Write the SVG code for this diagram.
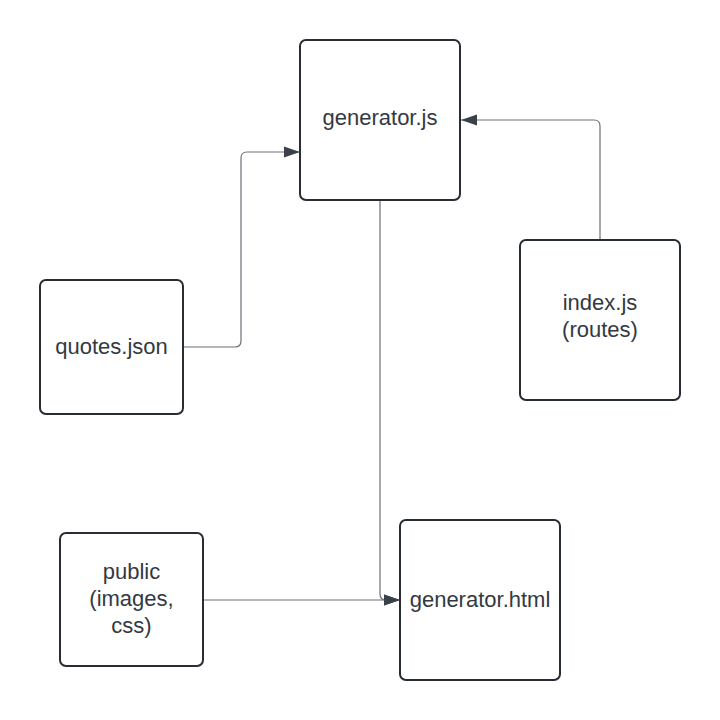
<svg xmlns="http://www.w3.org/2000/svg" width="720" height="720" viewBox="0 0 720 720">
<defs>
<marker id="arr" markerUnits="userSpaceOnUse" markerWidth="18" markerHeight="14" refX="16" refY="6" orient="auto" viewBox="0 0 18 12">
<path d="M0,0.5 L16,6 L0,11.5 Z" fill="#3a414a"/>
</marker>
</defs>
<style>
.box{fill:#ffffff;stroke:#282c33;stroke-width:2}
.lbl{font-family:"Liberation Sans",Arial,sans-serif;font-size:22px;fill:#333942;text-anchor:middle}
.conn{fill:none;stroke:#6b6f76;stroke-width:1.2}
</style>
<rect width="720" height="720" fill="#ffffff"/>
<g id="connectors">
<path class="conn" d="M183,347 L235,347 Q241,347 241,341 L241,158 Q241,152 247,152 L300,152" marker-end="url(#arr)"/>
<path class="conn" d="M600,240 L600,126 Q600,120 594,120 L461,120" marker-end="url(#arr)"/>
<path class="conn" d="M380,201 L380,594 Q380,600 386,600 L400,600" marker-end="url(#arr)"/>
<path class="conn" d="M204,600 L400,600" marker-end="url(#arr)"/>
</g>
<g id="generator-js">
<rect class="box" x="300" y="40" width="160" height="160" rx="6"/>
<text class="lbl" x="380" y="125">generator.js</text>
</g>
<g id="index-js">
<rect class="box" x="520" y="240" width="160" height="160" rx="6"/>
<text class="lbl" x="600" y="310">index.js</text>
<text class="lbl" x="600" y="337">(routes)</text>
</g>
<g id="quotes-json">
<rect class="box" x="40" y="280" width="143" height="134" rx="6"/>
<text class="lbl" x="111.5" y="354">quotes.json</text>
</g>
<g id="public">
<rect class="box" x="60" y="533" width="143" height="133" rx="6"/>
<text class="lbl" x="131.5" y="579">public</text>
<text class="lbl" x="131.5" y="606">(images,</text>
<text class="lbl" x="131.5" y="633">css)</text>
</g>
<g id="generator-html">
<rect class="box" x="400" y="520" width="160" height="160" rx="6"/>
<text class="lbl" x="480" y="607">generator.html</text>
</g>
</svg>
